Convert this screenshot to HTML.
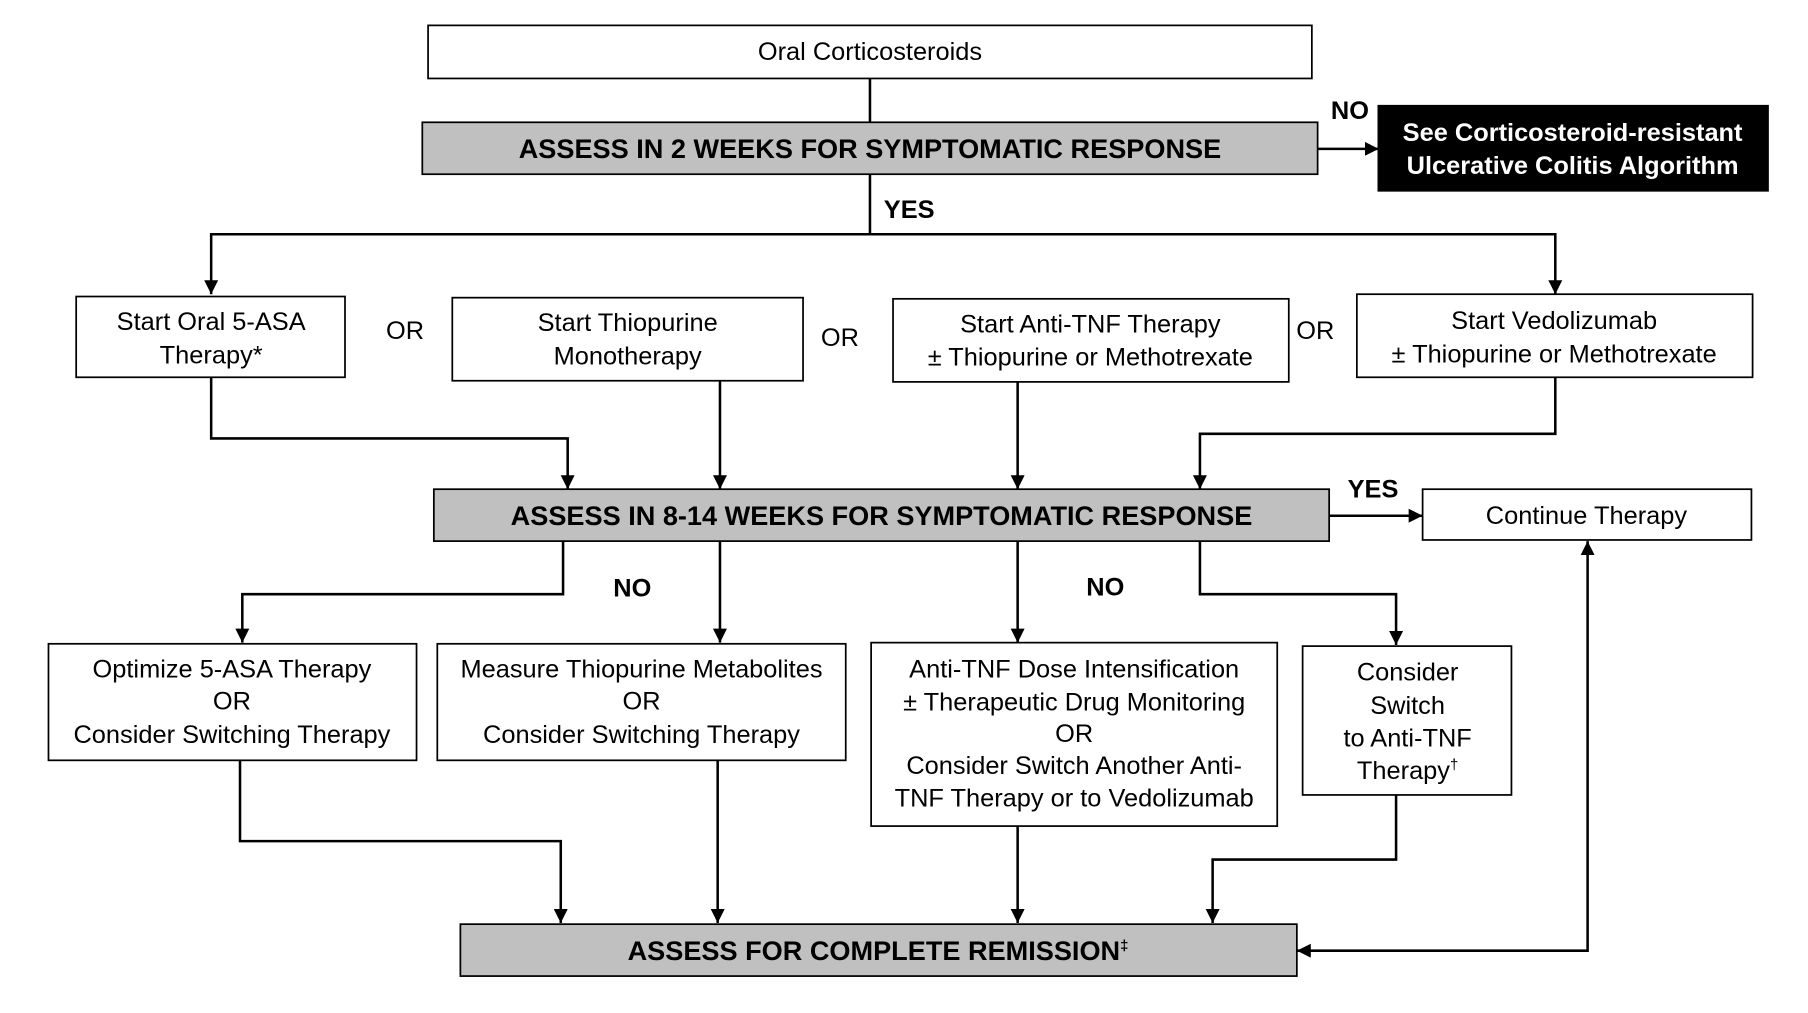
<!DOCTYPE html>
<html><head><style>html,body{margin:0;padding:0;background:#fff}svg{display:block}</style></head><body>
<svg width="1808" height="1013" viewBox="0 0 1567 878" xmlns="http://www.w3.org/2000/svg" font-family="Liberation Sans, Arial, sans-serif">
<defs><marker id="a" viewBox="0 0 10 10" refX="10" refY="5" markerWidth="5.5" markerHeight="5.5" orient="auto-start-reverse" markerUnits="strokeWidth"><path d="M0,0L10,5L0,10z" fill="#000"/></marker></defs>
<g fill="none" stroke="#000" stroke-width="2.2">
<rect x="371" y="22" width="766" height="46" fill="#fff" stroke-width="1.5"/>
<rect x="366" y="106" width="776" height="45" fill="#c0c0c0" stroke-width="1.5"/>
<rect x="1195" y="92" width="337" height="73" fill="#000"/>
<rect x="66" y="257" width="233" height="70" fill="#fff" stroke-width="1.5"/>
<rect x="392" y="258" width="304" height="72" fill="#fff" stroke-width="1.5"/>
<rect x="774" y="259" width="343" height="72" fill="#fff" stroke-width="1.5"/>
<rect x="1176" y="255" width="343" height="72" fill="#fff" stroke-width="1.5"/>
<rect x="376" y="424" width="776" height="45" fill="#c0c0c0" stroke-width="1.5"/>
<rect x="1233" y="424" width="285" height="44" fill="#fff" stroke-width="1.5"/>
<rect x="42" y="558" width="319" height="101" fill="#fff" stroke-width="1.5"/>
<rect x="379" y="558" width="354" height="101" fill="#fff" stroke-width="1.5"/>
<rect x="755" y="557" width="352" height="159" fill="#fff" stroke-width="1.5"/>
<rect x="1129" y="560" width="181" height="129" fill="#fff" stroke-width="1.5"/>
<rect x="399" y="801" width="725" height="45" fill="#c0c0c0" stroke-width="1.5"/>
<path d="M754,68V106"/>
<path d="M1142,129H1195" marker-end="url(#a)"/>
<path d="M754,151V203"/>
<path d="M183,255V203H1348V255" marker-start="url(#a)" marker-end="url(#a)"/>
<path d="M183,327V380H492V424" marker-end="url(#a)"/>
<path d="M624,330V424" marker-end="url(#a)"/>
<path d="M882,331V424" marker-end="url(#a)"/>
<path d="M1348,327V376H1040V424" marker-end="url(#a)"/>
<path d="M1152,447H1233" marker-end="url(#a)"/>
<path d="M488,469V515H210V557" marker-end="url(#a)"/>
<path d="M624,469V557" marker-end="url(#a)"/>
<path d="M882,469V557" marker-end="url(#a)"/>
<path d="M1040,469V515H1210V559" marker-end="url(#a)"/>
<path d="M208,659V729H486V800" marker-end="url(#a)"/>
<path d="M622,659V800" marker-end="url(#a)"/>
<path d="M882,716V800" marker-end="url(#a)"/>
<path d="M1210,689V745H1051V800" marker-end="url(#a)"/>
<path d="M1124,824H1376V469" marker-start="url(#a)" marker-end="url(#a)"/>
</g>
<g font-size="22" text-anchor="middle" fill="#000">
<text x="754" y="52">Oral Corticosteroids</text>
<text x="183" y="286">Start Oral 5-ASA</text><text x="183" y="315">Therapy*</text>
<text x="544" y="287">Start  Thiopurine</text><text x="544" y="316">Monotherapy</text>
<text x="945" y="288">Start Anti-TNF Therapy</text><text x="945" y="317">± Thiopurine  or Methotrexate</text>
<text x="1347" y="285">Start Vedolizumab</text><text x="1347" y="314">± Thiopurine  or Methotrexate</text>
<text x="351" y="294">OR</text><text x="728" y="300">OR</text><text x="1140" y="294">OR</text>
<text x="1375" y="454">Continue  Therapy</text>
<text x="201" y="587">Optimize 5-ASA Therapy</text><text x="201" y="615">OR</text><text x="201" y="644">Consider Switching  Therapy</text>
<text x="556" y="587">Measure Thiopurine  Metabolites</text><text x="556" y="615">OR</text><text x="556" y="644">Consider Switching  Therapy</text>
<text x="931" y="587">Anti-TNF Dose Intensification</text><text x="931" y="616">± Therapeutic  Drug Monitoring</text><text x="931" y="643">OR</text><text x="931" y="671">Consider Switch Another Anti-</text><text x="931" y="699">TNF Therapy  or to Vedolizumab</text>
<text x="1220" y="590">Consider</text><text x="1220" y="619">Switch</text><text x="1220" y="647">to Anti-TNF</text><text x="1220" y="675">Therapy<tspan font-size="13" dy="-8">†</tspan></text>
</g>
<g font-size="23.5" font-weight="bold" text-anchor="middle" fill="#000">
<text x="754" y="137">ASSESS IN 2 WEEKS FOR SYMPTOMATIC RESPONSE</text>
<text x="764" y="455">ASSESS IN 8-14 WEEKS FOR SYMPTOMATIC RESPONSE</text>
<text x="761" y="832">ASSESS FOR COMPLETE REMISSION<tspan font-size="13" dy="-8">‡</tspan></text>
</g>
<g font-size="22" font-weight="bold" text-anchor="middle" fill="#000">
<text x="1170" y="103">NO</text><text x="788" y="189">YES</text><text x="1190" y="431">YES</text>
<text x="548" y="517">NO</text><text x="958" y="516">NO</text>
<text x="1363" y="122" fill="#fff">See Corticosteroid-resistant</text>
<text x="1363" y="151" fill="#fff">Ulcerative  Colitis  Algorithm</text>
</g>
</svg>
</body></html>
